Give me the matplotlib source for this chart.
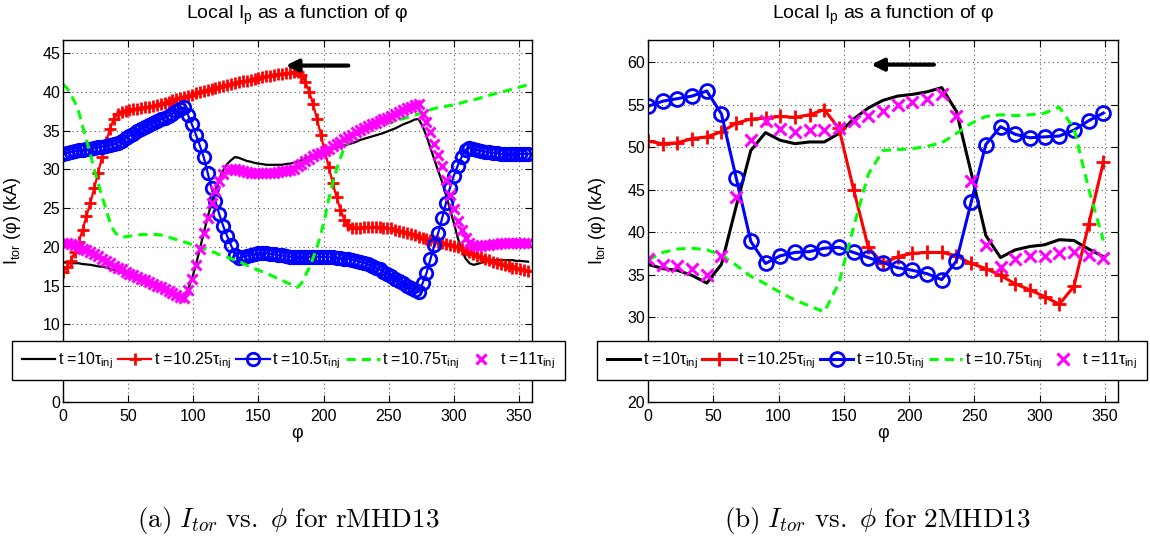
import numpy as np
import matplotlib.pyplot as plt

plt.rcParams['font.family'] = ['Liberation Sans', 'DejaVu Sans']
plt.rcParams['mathtext.fontset'] = 'custom'
plt.rcParams['mathtext.rm'] = 'Liberation Sans'
plt.rcParams['mathtext.it'] = 'Liberation Sans:italic'
plt.rcParams['mathtext.bf'] = 'Liberation Sans:bold'

# rMHD13: toroidal angle sampled every 3 degrees
phi_a = np.arange(0, 360, 3)

itor_a_10 = [18.0, 18.0, 17.95, 17.9, 17.9, 17.8, 17.75, 17.7, 17.6, 17.5,
             17.45, 17.35, 17.2, 17.05, 16.9, 16.7, 16.5, 16.3, 16.05, 15.85,
             15.7, 15.5, 15.3, 15.15, 14.9, 14.75, 14.55, 14.35, 14.1, 13.9,
             13.7, 13.6, 14.6, 15.9, 17.7, 19.7, 21.8, 23.8, 25.7, 27.3,
             28.8, 29.9, 30.7, 31.2, 31.6, 31.5, 31.3, 31.1, 31.0, 30.85,
             30.75, 30.7, 30.6, 30.6, 30.6, 30.6, 30.6, 30.7, 30.75, 30.85,
             31.0, 31.2, 31.45, 31.65, 31.8, 31.95, 32.1, 32.25, 32.5, 32.65,
             32.8, 32.95, 33.1, 33.25, 33.4, 33.55, 33.8, 33.95, 34.1, 34.25,
             34.4, 34.55, 34.7, 34.9, 35.1, 35.3, 35.55, 35.8, 36.0, 36.2,
             36.45, 36.5, 35.6, 34.3, 32.8, 31.3, 29.8, 28.4, 26.7, 24.9,
             23.1, 21.2, 19.6, 18.5, 17.9, 17.7, 17.8, 17.95, 18.1, 18.25,
             18.3, 18.3, 18.3, 18.3, 18.3, 18.3, 18.2, 18.2, 18.15, 18.1]

itor_a_1025 = [16.8, 17.4, 18.2, 19.3, 20.6, 22.2, 24.0, 25.7, 27.6, 29.6,
               31.6, 33.5, 35.2, 36.5, 37.2, 37.45, 37.6, 37.7, 37.75, 37.85,
               37.9, 38.0, 38.05, 38.15, 38.3, 38.45, 38.6, 38.75, 38.9, 39.05,
               39.2, 39.35, 39.5, 39.65, 39.8, 39.95, 40.1, 40.25, 40.4, 40.55,
               40.7, 40.8, 40.9, 41.0, 41.1, 41.25, 41.35, 41.45, 41.6, 41.7,
               41.8, 41.9, 42.0, 42.1, 42.15, 42.25, 42.3, 42.4, 42.45, 42.55,
               42.6, 42.2, 41.3, 40.0, 38.4, 36.5, 34.4, 32.3, 30.3, 28.3,
               26.4, 24.8, 23.5, 22.8, 22.5, 22.5, 22.5, 22.6, 22.6, 22.6,
               22.6, 22.6, 22.5, 22.45, 22.4, 22.25, 22.1, 21.95, 21.8, 21.65,
               21.5, 21.35, 21.2, 21.05, 20.9, 20.75, 20.6, 20.45, 20.35, 20.2,
               20.1, 19.95, 19.75, 19.55, 19.3, 19.1, 18.85, 18.7, 18.5, 18.3,
               18.1, 17.95, 17.8, 17.65, 17.5, 17.35, 17.25, 17.1, 17.0, 16.9]

itor_a_105 = [32.0, 32.1, 32.25, 32.35, 32.5, 32.55, 32.65, 32.7, 32.8, 32.85,
              32.95, 33.0, 33.1, 33.25, 33.45, 33.7, 34.0, 34.3, 34.6, 34.9,
              35.2, 35.45, 35.7, 36.0, 36.2, 36.45, 36.65, 36.9, 37.2, 37.5,
              37.8, 38.0, 37.0, 35.8, 34.5, 33.1, 31.6, 29.6, 27.6, 25.9,
              24.2, 22.7, 21.4, 20.2, 19.0, 18.6, 18.7, 18.85, 19.0, 19.1,
              19.2, 19.2, 19.2, 19.1, 19.05, 18.95, 18.9, 18.8, 18.75, 18.7,
              18.7, 18.7, 18.7, 18.7, 18.7, 18.7, 18.7, 18.7, 18.7, 18.65,
              18.6, 18.6, 18.5, 18.45, 18.35, 18.25, 18.1, 17.95, 17.75, 17.55,
              17.3, 17.1, 16.8, 16.5, 16.2, 15.9, 15.6, 15.3, 15.0, 14.7,
              14.4, 14.2, 15.3, 16.6, 18.4, 20.2, 21.8, 23.7, 25.7, 27.6,
              29.2, 30.5, 31.6, 32.5, 32.8, 32.7, 32.5, 32.4, 32.3, 32.2,
              32.15, 32.1, 32.0, 32.0, 32.0, 32.0, 32.0, 32.0, 32.0, 32.0]

itor_a_1075 = [41.0, 40.5, 39.7, 38.7, 37.5, 35.6, 33.8, 32.0, 30.0, 28.2,
               26.5, 24.9, 23.2, 22.1, 21.5, 21.3, 21.3, 21.4, 21.45, 21.5,
               21.6, 21.6, 21.6, 21.6, 21.6, 21.55, 21.45, 21.3, 21.1, 20.95,
               20.8, 20.65, 20.5, 20.3, 20.1, 20.0, 19.8, 19.6, 19.4, 19.25,
               19.0, 18.85, 18.7, 18.5, 18.3, 18.1, 17.9, 17.65, 17.4, 17.2,
               17.0, 16.8, 16.6, 16.4, 16.15, 15.9, 15.7, 15.45, 15.25, 15.0,
               14.8, 15.3, 16.3, 17.3, 18.6, 20.0, 21.7, 23.7, 26.2, 28.2,
               30.0, 31.5, 32.8, 33.6, 34.1, 34.5, 34.8, 35.0, 35.2, 35.3,
               35.5, 35.65, 35.8, 35.95, 36.1, 36.25, 36.4, 36.55, 36.7, 36.85,
               37.0, 37.15, 37.4, 37.55, 37.7, 37.85, 38.0, 38.05, 38.15, 38.25,
               38.3, 38.45, 38.6, 38.75, 38.9, 39.0, 39.1, 39.25, 39.4, 39.55,
               39.7, 39.85, 40.0, 40.1, 40.2, 40.4, 40.5, 40.65, 40.8, 40.9]

itor_a_11 = [20.5, 20.5, 20.4, 20.2, 20.0, 19.8, 19.55, 19.3, 19.1, 18.8,
             18.5, 18.2, 17.9, 17.6, 17.35, 17.1, 16.8, 16.55, 16.35, 16.1,
             15.9, 15.7, 15.45, 15.2, 15.0, 14.8, 14.55, 14.35, 14.1, 13.8,
             13.55, 13.4, 14.5, 15.9, 17.7, 19.7, 21.8, 23.8, 25.7, 27.2,
             28.5, 29.4, 29.9, 30.1, 30.1, 29.95, 29.8, 29.7, 29.6, 29.5,
             29.5, 29.5, 29.5, 29.55, 29.6, 29.7, 29.75, 29.8, 29.9, 30.1,
             30.4, 30.75, 31.1, 31.4, 31.7, 31.95, 32.15, 32.4, 32.7, 33.0,
             33.3, 33.6, 33.9, 34.2, 34.5, 34.8, 35.1, 35.3, 35.55, 35.8,
             36.0, 36.25, 36.45, 36.7, 36.9, 37.2, 37.45, 37.7, 37.9, 38.1,
             38.3, 38.4, 37.2, 36.1, 34.8, 33.3, 31.8, 30.4, 28.6, 26.7,
             24.9, 23.4, 22.2, 21.2, 20.5, 20.2, 20.1, 20.1, 20.2, 20.3,
             20.35, 20.4, 20.45, 20.5, 20.5, 20.5, 20.5, 20.5, 20.5, 20.5]

# 2MHD13: 32 toroidal planes
phi_b = np.arange(32) * 11.25

itor_b_10 = [36.2, 35.7, 35.5, 34.9, 34.0, 36.2, 43.0, 49.6,
             51.7, 50.8, 50.4, 50.6, 50.6, 51.6, 53.3, 54.6,
             55.5, 56.0, 56.2, 56.5, 57.0, 54.2, 47.0, 39.6,
             37.0, 37.9, 38.3, 38.5, 39.1, 39.0, 38.0, 37.1]

itor_b_1025 = [50.7, 50.4, 50.5, 51.0, 51.2, 51.8, 52.8, 53.3,
               53.4, 53.6, 53.5, 53.8, 54.4, 52.2, 45.0, 38.2,
               36.3, 37.1, 37.5, 37.6, 37.6, 37.2, 36.3, 35.7,
               34.9, 33.9, 33.2, 32.4, 31.5, 33.6, 40.9, 48.2]

itor_b_105 = [54.8, 55.4, 55.7, 56.0, 56.6, 53.9, 46.4, 38.9,
              36.3, 37.2, 37.6, 37.7, 38.1, 38.2, 37.6, 37.0,
              36.4, 35.8, 35.5, 35.1, 34.4, 36.6, 43.5, 50.3,
              52.4, 51.5, 51.1, 51.2, 51.3, 52.0, 53.1, 54.0]

itor_b_1075 = [36.7, 37.6, 38.0, 38.1, 37.9, 37.3, 36.1, 34.8,
               33.9, 32.9, 32.0, 31.3, 30.6, 34.0, 40.6, 46.8,
               49.6, 49.7, 49.8, 50.1, 50.5, 51.6, 52.8, 53.6,
               53.8, 53.7, 53.8, 54.0, 54.7, 52.2, 45.1, 39.0]

itor_b_11 = [36.8, 36.1, 36.05, 35.6, 34.9, 37.2, 44.1, 50.85,
             53.1, 52.15, 51.75, 52.0, 52.0, 52.3, 53.1, 53.6,
             54.2, 55.0, 55.3, 55.7, 56.25, 53.6, 46.0, 38.5,
             35.9, 36.8, 37.2, 37.2, 37.5, 37.7, 37.35, 37.0]

labels = [r't =10τ$_{\mathrm{inj}}$', r't =10.25τ$_{\mathrm{inj}}$',
          r't =10.5τ$_{\mathrm{inj}}$', r't =10.75τ$_{\mathrm{inj}}$',
          r't =11τ$_{\mathrm{inj}}$']

# y ticks; the one sitting under the legend box is left out
yticks_a = [0, 10, 15, 20, 25, 30, 35, 40, 45]
yticks_b = [20, 30, 35, 40, 45, 50, 55, 60]


def draw_panel(ax, phi, curves, lw, ms, ylim, yticks, arrow_y, leg_box):
    c10, c1025, c105, c1075, c11 = curves
    h = []
    h += ax.plot(phi, c10, '-', color='k', lw=lw)
    h += ax.plot(phi, c1025, '-', color='#ff0000', lw=lw, marker='+',
                 ms=ms[0], mew=2)
    h += ax.plot(phi, c105, '-', color='#0000ff', lw=lw, marker='o',
                 ms=ms[1], mew=2, mfc='none')
    h += ax.plot(phi, c1075, '--', color='#00ff00', lw=2.2, dashes=(3, 2))
    h += ax.plot(phi, c11, ls='none', color='#ff00ff', marker='x',
                 ms=ms[2], mew=2.2)

    # arrow showing the direction of the rotation
    ax.annotate('', xy=(171, arrow_y), xytext=(219, arrow_y),
                arrowprops=dict(arrowstyle='-|>', lw=3, color='k',
                                mutation_scale=18, shrinkA=0, shrinkB=0))

    ax.set_xlim(0, 360)
    ax.set_ylim(*ylim)
    ax.set_xticks(np.arange(0, 351, 50))
    ax.set_yticks(yticks)
    ax.grid(True, linestyle=(0, (1, 3)), color='0.35', linewidth=0.8)
    ax.tick_params(direction='in', top=True, right=True, length=5,
                   width=0.8, labelsize=11.5)
    ax.tick_params(axis='y', pad=2)
    ax.tick_params(axis='x', pad=5)
    for s in ax.spines.values():
        s.set_linewidth(1.0)

    ax.set_title(r'Local I$_\mathrm{p}$ as a function of φ', fontsize=14,
                 pad=15)
    ax.set_xlabel('φ', fontsize=13, labelpad=1)
    ax.set_ylabel(r'I$_\mathrm{tor}$ (φ) (kA)', fontsize=13)
    ax.yaxis.set_label_coords(-0.085, 0.5)

    leg = ax.legend(h, labels, loc='center', ncol=5, mode='expand',
                    bbox_to_anchor=leg_box, bbox_transform=fig.transFigure,
                    borderaxespad=0, fontsize=11.5, numpoints=1,
                    handlelength=2.1, handletextpad=0.15, columnspacing=0.2,
                    borderpad=0.6, fancybox=False, framealpha=1,
                    edgecolor='k')
    leg.get_frame().set_linewidth(1.0)


fig = plt.figure(figsize=(11.5, 5.4), dpi=100)
ax_a = fig.add_axes([63 / 1150, 138 / 540, 469 / 1150, 362 / 540])
ax_b = fig.add_axes([648 / 1150, 138 / 540, 470 / 1150, 362 / 540])

draw_panel(ax_a, phi_a,
           [itor_a_10, itor_a_1025, itor_a_105, itor_a_1075, itor_a_11],
           lw=1.6, ms=(8, 9, 6.5), ylim=(0, 46.7),
           yticks=yticks_a, arrow_y=43.4,
           leg_box=(12 / 1150, 158 / 540, 553 / 1150, 43 / 540))
draw_panel(ax_b, phi_b,
           [itor_b_10, itor_b_1025, itor_b_105, itor_b_1075, itor_b_11],
           lw=2.2, ms=(10, 10, 8), ylim=(20, 62.6),
           yticks=yticks_b, arrow_y=59.7,
           leg_box=(597 / 1150, 158 / 540, 550 / 1150, 43 / 540))

fig.text(288 / 1150, 20 / 540,
         r'$\mathrm{(a)}\ I_{tor}\ \mathrm{vs.}\ \phi\ \mathrm{for\ rMHD13}$',
         math_fontfamily='cm', fontsize=19.5, ha='center', va='center')
fig.text(877 / 1150, 20 / 540,
         r'$\mathrm{(b)}\ I_{tor}\ \mathrm{vs.}\ \phi\ \mathrm{for\ 2MHD13}$',
         math_fontfamily='cm', fontsize=19.5, ha='center', va='center')

fig.savefig('out.png', dpi=100)
